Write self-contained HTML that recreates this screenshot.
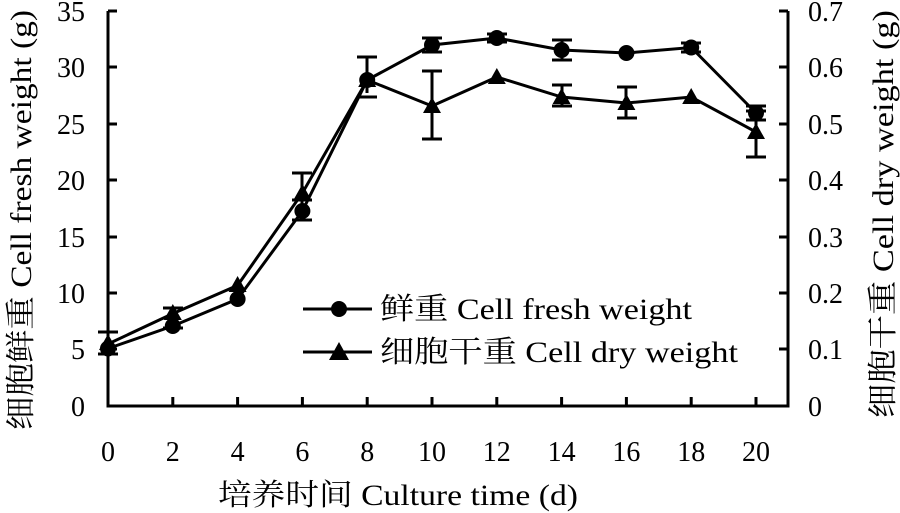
<!DOCTYPE html>
<html><head><meta charset="utf-8"><style>body{margin:0;background:#fff}svg{display:block}</style></head><body>
<svg width="900" height="513" xmlns="http://www.w3.org/2000/svg" font-family="'Liberation Serif','Noto Serif CJK SC',serif">
<g stroke="#000" stroke-width="3" fill="none">
<path d="M108,11V406H788V11"/>
<path d="M108,11h9M108,67h9M108,124h9M108,180h9M108,237h9M108,293h9M108,349h9"/>
<path d="M788,11h-9M788,67h-9M788,124h-9M788,180h-9M788,237h-9M788,293h-9M788,349h-9"/>
<path d="M172.8,406v-9M237.6,406v-9M302.4,406v-9M367.2,406v-9M432,406v-9M496.8,406v-9M561.6,406v-9M626.4,406v-9M691.2,406v-9M756,406v-9"/>
</g>
<g stroke="#000" stroke-width="3" fill="none">
<polyline points="108,348.5 172.8,326 237.6,299 302.4,211 367.2,80 432,45 496.8,38 561.6,50 626.4,53 691.2,47.5 756,113"/>
<polyline points="108,344 172.8,313.6 237.6,285.4 302.4,193 367.2,80 432,106 496.8,77 561.6,97 626.4,103 691.2,97 756,132"/>
<path d="M98,332h20M108,332v22M98,354h20"/>
<path d="M163,308h20M172.8,308v20M163,328h20"/>
<path d="M292,200h20M302,200v20M292,220h20"/>
<path d="M292,173h20M302,173v20"/>
<path d="M357,57h20M367,57v36M357,97h20"/>
<path d="M422,71h20M432,71v68M422,139h20"/>
<path d="M422,38h20M432,38v14M422,52h20"/>
<path d="M487,34h20M487,42h20"/>
<path d="M552,40h20M562,40v20M552,60h20"/>
<path d="M552,85h20M562,85v21M552,106h20"/>
<path d="M617,87h20M626,87v31M617,118h20"/>
<path d="M681,43h20M681,52h20"/>
<path d="M746,106h20M756,106v14M746,120h20"/>
<path d="M746,111h20M756,111v46M746,157h20"/>
<path d="M303,309h69M303,352h69"/>
</g>
<g fill="#000">
<circle cx="108" cy="348.5" r="8"/><circle cx="172.8" cy="326" r="8"/><circle cx="237.6" cy="299" r="8"/><circle cx="302.4" cy="211" r="8"/><circle cx="367.2" cy="80" r="8"/><circle cx="432" cy="45" r="8"/><circle cx="496.8" cy="38" r="8"/><circle cx="561.6" cy="50" r="8"/><circle cx="626.4" cy="53" r="8"/><circle cx="691.2" cy="47.5" r="8"/><circle cx="756" cy="113" r="8"/>
<circle cx="339" cy="309" r="8"/>
<path d="M108,334l9,16h-18z"/><path d="M172.8,304l9,16h-18z"/><path d="M237.6,276l9,16h-18z"/><path d="M302.4,184l9,16h-18z"/><path d="M367.2,71l9,16h-18z"/><path d="M432,97l9,16h-18z"/><path d="M496.8,68l9,16h-18z"/><path d="M561.6,88l9,16h-18z"/><path d="M626.4,94l9,16h-18z"/><path d="M691.2,88l9,16h-18z"/><path d="M756,123l9,16h-18z"/>
<path d="M339,342l10,18h-20z"/>
</g>
<g font-size="28" text-anchor="end">
<text x="85" y="21">35</text><text x="85" y="77">30</text><text x="85" y="134">25</text><text x="85" y="190">20</text><text x="85" y="247">15</text><text x="85" y="303">10</text><text x="85" y="359">5</text><text x="85" y="416">0</text>
</g>
<g font-size="28" text-anchor="start">
<text x="808" y="21">0.7</text><text x="808" y="77">0.6</text><text x="808" y="134">0.5</text><text x="808" y="190">0.4</text><text x="808" y="247">0.3</text><text x="808" y="303">0.2</text><text x="808" y="359">0.1</text><text x="808" y="416">0</text>
</g>
<g font-size="28" text-anchor="middle">
<text x="108" y="461">0</text><text x="172.8" y="461">2</text><text x="237.6" y="461">4</text><text x="302.4" y="461">6</text><text x="367.2" y="461">8</text><text x="432" y="461">10</text><text x="496.8" y="461">12</text><text x="561.6" y="461">14</text><text x="626.4" y="461">16</text><text x="691.2" y="461">18</text><text x="756" y="461">20</text>
</g>
<text x="218" y="505" font-size="30" textLength="360" lengthAdjust="spacingAndGlyphs">培养时间 Culture time (d)</text>
<text transform="translate(31,430) rotate(-90)" font-size="30" textLength="420" lengthAdjust="spacingAndGlyphs">细胞鲜重 Cell fresh weight (g)</text>
<text transform="translate(893,418) rotate(-90)" font-size="30" textLength="408" lengthAdjust="spacingAndGlyphs">细胞干重 Cell dry weight (g)</text>
<text x="380" y="319" font-size="30" textLength="312" lengthAdjust="spacingAndGlyphs">鲜重 Cell fresh weight</text>
<text x="380" y="362" font-size="30" textLength="358" lengthAdjust="spacingAndGlyphs">细胞干重 Cell dry weight</text>
</svg>
</body></html>
